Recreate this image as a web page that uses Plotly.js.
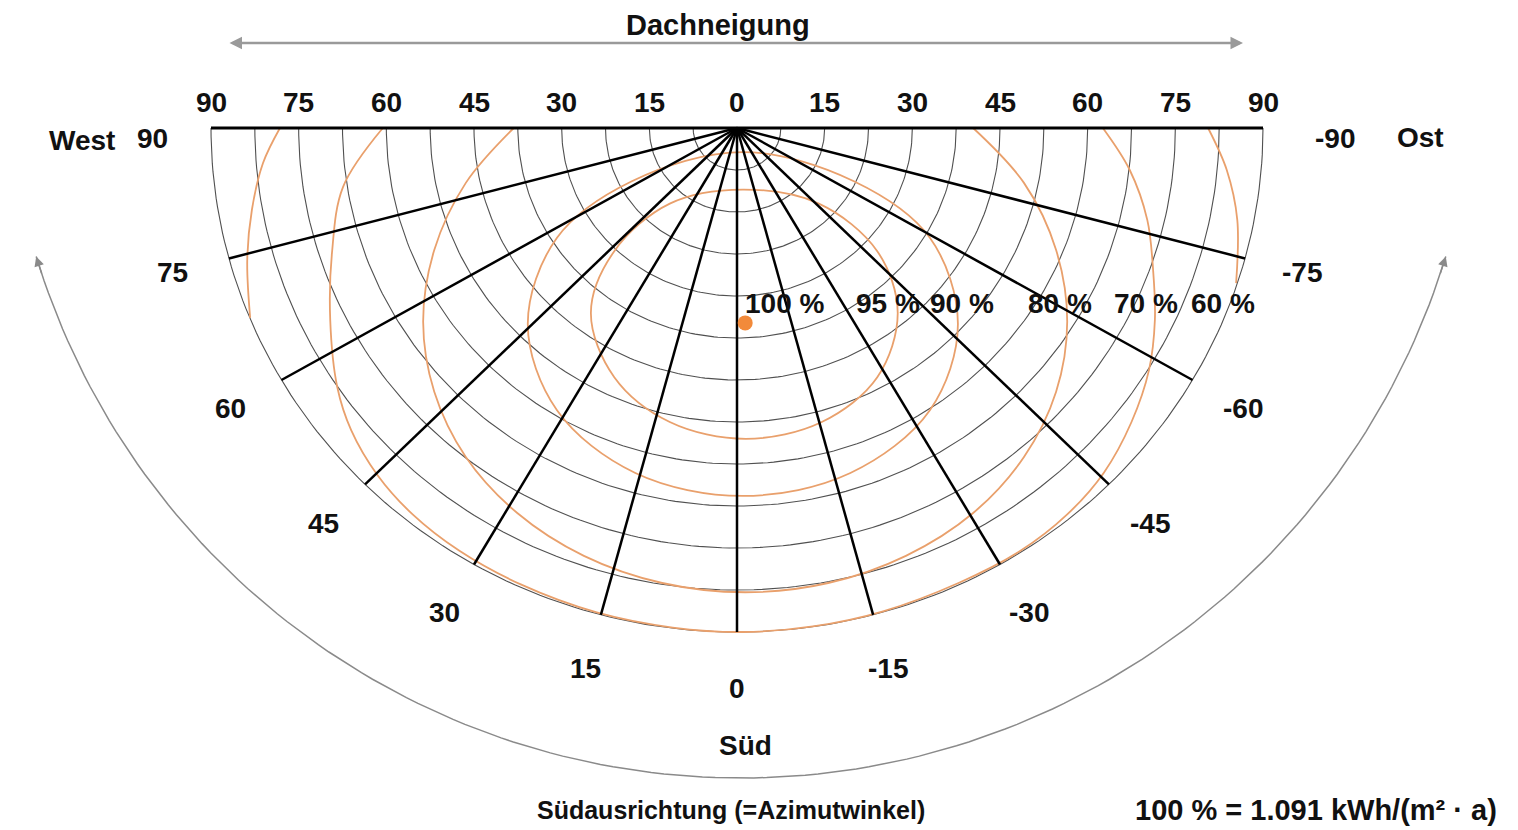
<!DOCTYPE html>
<html><head><meta charset="utf-8">
<script src="https://cdn.plot.ly/plotly-3.0.1.min.js"></script>
<style>html,body{margin:0;padding:0;background:#fff;}#chart{width:1518px;height:830px;}</style>
</head><body><div id="chart"></div>
<script>
// ---------- data ----------
// Dachneigung (tilt) rings and Azimut rays
const tiltRings = [7.5, 15, 22.5, 30, 37.5, 45, 52.5, 60, 67.5, 75, 82.5, 90];
const azimuthRays = [75, 60, 45, 30, 15, 0, -15, -30, -45, -60, -75];
const tiltTicks = [-90, -75, -60, -45, -30, -15, 0, 15, 30, 45, 60, 75, 90];
const azimuthTicks = [90, 75, 60, 45, 30, 15, 0, -15, -30, -45, -60, -75, -90];

// Isolines of relative irradiation, in diagram plane (degrees of tilt; x = east, y = south negative)
const k95_x = [1, 14, 24, 27.5, 24, 14.5, 1.5, -11.5, -21, -25, -21, -11.5, 1];
const k95_y = [-11, -13.5, -22, -33, -44.5, -52.5, -55.5, -52.5, -44.5, -33, -22, -13.5, -11];
const k90_x = [1, 20, 33, 37.8, 33, 19.4, 1, -17.4, -30.8, -35.8, -30.8, -18, 1];
const k90_y = [-4.3, -9.5, -19.6, -35, -50.4, -61.6, -65.7, -61.6, -50.4, -35, -19.6, -9.5, -4.3];
const k80_x = [-38.2, -46.4, -51.8, -53.7, -51.8, -46.4, -37.6, -26.2, -12.8, 1.4, 15.6, 28.9, 40.4, 49.1, 54.6, 56.5, 54.6, 49.1, 40.4];
const k80_y = [0, -9.8, -21.8, -34.6, -47.1, -58.75, -68.75, -76.4, -81.25, -82.9, -81.25, -76.4, -68.75, -58.75, -47.1, -34.6, -21.8, -9.8, 0];
const k70_x = [-60.6, -67.4, -69.3, -69.6, -68.4, -66, -61.5, -55.5, -47.5, -37, -24, -11, 1, 13, 25, 38, 48.5, 56.5, 62.8, 67.5, 70.5, 71.5, 71.2, 70.2, 67.2, 62.6];
const k70_y = [0, -10.5, -22.3, -34.3, -46.25, -54, -62, -69, -75.5, -81.5, -86.5, -89.2, -90, -89, -86.3, -81.2, -75.5, -69, -61.5, -52.5, -43.2, -34.3, -25.4, -16.4, -7.5, 0];
const k60w_x = [-78.2, -81.1, -83.0, -83.8, -83.3];
const k60w_y = [0, -6.25, -14.6, -23.6, -33.9];
const k60o_x = [80.6, 83.8, 85.6, 85.4];
const k60o_y = [0, -7.5, -16.4, -27.7];
const optimum_x = [1.4];
const optimum_y = [-34.8];
const contourLabels = ['100 %', '95 %', '90 %', '80 %', '70 %', '60 %'];

// ---------- layout constants ----------
const W = 1518, H = 830;
const CX = 737, CY = 128;            // pixel position of the diagram centre
const PXX = 526 / 90, PXY = 504 / 90; // pixels per degree
const xRange = [-CX / PXX, (W - CX) / PXX];
const yRange = [-(H - CY) / PXY, CY / PXY];
const labelFont = {family: 'Liberation Sans, Arial, Helvetica, sans-serif', size: 28, color: '#111'};
const contourLabelPos = {x: [8.2, 25.8, 38.5, 55.3, 70.0, 83.2], y: -31.25};
const azLabelRadius = 100;
const ORANGE = '#e9a06c';

function polar(t, az) { const a = az * Math.PI / 180; return [-t * Math.sin(a), -t * Math.cos(a)]; }
function pxToData(px, py) { return [(px - CX) / PXX, (CY - py) / PXY]; }

// rings
const rx = [], ry = [];
tiltRings.forEach(t => {
  for (let az = -90; az <= 90; az += 1) { const p = polar(t, az); rx.push(p[0]); ry.push(p[1]); }
  rx.push(null); ry.push(null);
});
// rays
const sx = [], sy = [];
azimuthRays.forEach(az => {
  const p = polar(90, az); sx.push(0, p[0], null); sy.push(0, p[1], null);
});
const top90 = [polar(90, 90), polar(90, -90)];

// decorative arc arrow (Süd direction)
const arcC = {x: 741, y: 41}, arcR = 737, arcFrom = 17, arcTo = 163;
const ax_ = [], ay_ = [];
for (let th = arcFrom; th <= arcTo; th += 1) {
  const a = th * Math.PI / 180;
  const d = pxToData(arcC.x + arcR * Math.cos(a), arcC.y + arcR * Math.sin(a));
  ax_.push(d[0]); ay_.push(d[1]);
}

const contourLine = {color: ORANGE, width: 1.8, shape: 'spline', smoothing: 1};
const traces = [
  {x: rx, y: ry, mode: 'lines', line: {color: '#505050', width: 1.1}, hoverinfo: 'skip'},
  {x: ax_, y: ay_, mode: 'lines', line: {color: '#8a8a8a', width: 1.5}, hoverinfo: 'skip'},
  {x: k95_x, y: k95_y, mode: 'lines', line: contourLine, name: '95 %'},
  {x: k90_x, y: k90_y, mode: 'lines', line: contourLine, name: '90 %'},
  {x: k80_x, y: k80_y, mode: 'lines', line: contourLine, name: '80 %'},
  {x: k70_x, y: k70_y, mode: 'lines', line: contourLine, name: '70 %'},
  {x: k60w_x, y: k60w_y, mode: 'lines', line: contourLine, name: '60 %'},
  {x: k60o_x, y: k60o_y, mode: 'lines', line: contourLine, name: '60 %'},
  {x: sx, y: sy, mode: 'lines', line: {color: '#000', width: 2.5}, hoverinfo: 'skip'},
  {x: [top90[0][0], top90[1][0]], y: [top90[0][1], top90[1][1]], mode: 'lines', line: {color: '#000', width: 3}, hoverinfo: 'skip'},
  {x: optimum_x, y: optimum_y, mode: 'markers', marker: {color: '#f28a3a', size: 15}, name: '100 %'}
];

const ann = [];
tiltTicks.forEach(v => ann.push({x: v, y: 0, yshift: 26, text: '<b>' + Math.abs(v) + '</b>', showarrow: false, font: labelFont}));
azimuthTicks.forEach(az => {
  const p = polar(azLabelRadius, az);
  const o = {x: p[0], y: p[1], text: '<b>' + az + '</b>', showarrow: false, font: labelFont};
  if (Math.abs(az) === 90) { o.yshift = -10; if (az < 0) o.xshift = 14; }
  ann.push(o);
});
contourLabels.forEach((t, i) => ann.push({x: contourLabelPos.x[i], y: contourLabelPos.y, text: '<b>' + t + '</b>', showarrow: false, font: labelFont}));
function paperText(txt, px, py, size) {
  return {xref: 'paper', yref: 'paper', x: px / W, y: 1 - py / H, text: '<b>' + txt + '</b>', showarrow: false,
          font: Object.assign({}, labelFont, {size: size}), xanchor: 'center', yanchor: 'middle'};
}
ann.push(paperText('West', 82, 140, 28));
ann.push(paperText('Ost', 1420, 137, 28));
ann.push(paperText('Süd', 745, 745, 28));
ann.push(paperText('Dachneigung', 718, 25, 29));
ann.push(paperText('Südausrichtung (=Azimutwinkel)', 731, 810, 25));
ann.push(paperText('100 % = 1.091 kWh/(m² · a)', 1316, 810, 29));
// top double arrow
const tl = pxToData(228, 43), tr = pxToData(1243, 43);
ann.push({x: tr[0], y: tr[1], ax: tl[0], ay: tl[1], axref: 'x', ayref: 'y', text: '', showarrow: true,
          arrowside: 'end+start', arrowhead: 2, arrowsize: 1, arrowwidth: 2.5, arrowcolor: '#9a9a9a', standoff: 0, startstandoff: 0});
// arc arrowheads
[[arcFrom, 1.5], [arcTo, -1.5]].forEach(([th, d]) => {
  const a = th * Math.PI / 180, b = (th + d) * Math.PI / 180;
  const tip = pxToData(arcC.x + arcR * Math.cos(a), arcC.y + arcR * Math.sin(a));
  ann.push({x: tip[0], y: tip[1], ax: arcR * (Math.cos(b) - Math.cos(a)), ay: arcR * (Math.sin(b) - Math.sin(a)),
            text: '', showarrow: true, arrowhead: 2, arrowsize: 1.3, arrowwidth: 1.5, arrowcolor: '#8a8a8a', standoff: 0});
});

const layout = {
  width: W, height: H, margin: {l: 0, r: 0, t: 0, b: 0},
  paper_bgcolor: '#fff', plot_bgcolor: '#fff', showlegend: false,
  xaxis: {range: xRange, visible: false, fixedrange: true},
  yaxis: {range: yRange, visible: false, fixedrange: true},
  annotations: ann
};
Plotly.newPlot('chart', traces, layout, {displayModeBar: false, staticPlot: true});
</script></body></html>
